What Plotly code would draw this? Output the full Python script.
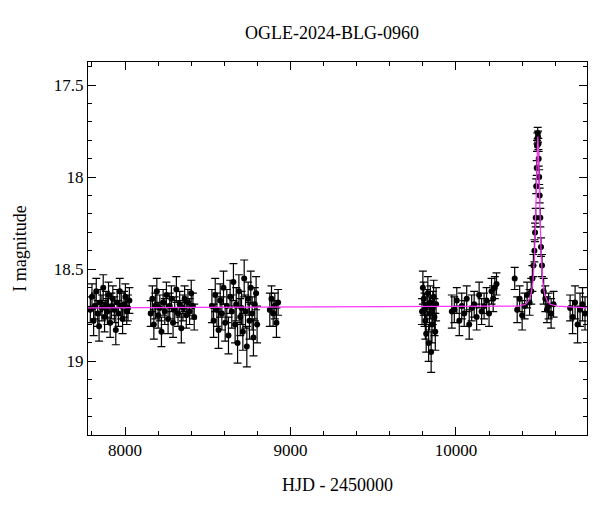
import plotly.graph_objects as go

# Observations (HJD-2450000, I mag, error)
hjd = [7790,7800,7810,7818,7826,7835,7843,7850,7860,7868,7876,7884,7893,7900,7910,7918,7926,7935,7944,7952,7960,7968,7977,7985,7994,8002,8010,8018,8026,
       8155,8165,8174,8183,8192,8200,8210,8220,8230,8240,8250,8260,8270,8280,8290,8300,8310,8320,8330,8340,8350,8360,8370,8380,8390,8400,8410,8418,
       8525,8535,8545,8555,8565,8575,8585,8595,8605,8615,8625,8635,8645,8655,8665,8672,8680,8688,8696,8704,8712,8720,8728,8736,8744,8752,8760,8768,8776,8784,8792,8798,
       8875,8885,8895,8905,8915,8925,
       9795,9800,9805,9810,9815,9820,9825,9830,9835,9840,9845,9850,9855,9860,9865,9870,9875,9880,
       9975,9990,10005,10020,10035,10050,10065,10080,10095,10110,10125,10140,10155,10170,10185,10200,10215,10225,10235,10245,
       10355,10370,10385,10400,10415,10430,10445,10455,10462,10468,10474,10478,10482,10485,10488,10490,10492,10494,10496,10498,10500,10503,10506,10510,10514,10520,10530,10540,10550,10560,10575,10590,
       10690,10705,10720,10735,10750,10765,10780]
mag = [18.72,18.65,18.78,18.70,18.62,18.74,18.81,18.68,18.71,18.60,18.76,18.69,18.73,18.64,18.79,18.70,18.66,18.72,18.83,18.68,18.74,18.62,18.70,18.77,18.69,18.65,18.73,18.71,18.67,
       18.74,18.66,18.80,18.70,18.62,18.75,18.71,18.84,18.68,18.73,18.64,18.77,18.70,18.66,18.79,18.72,18.61,18.74,18.69,18.82,18.71,18.66,18.75,18.68,18.73,18.63,18.70,18.76,
       18.70,18.78,18.64,18.72,18.83,18.67,18.74,18.60,18.79,18.70,18.86,18.65,18.73,18.57,18.80,18.69,18.90,18.62,18.76,18.71,18.84,18.55,18.73,18.92,18.66,18.78,18.60,18.74,18.87,18.69,18.63,18.80,18.72,
       18.66,18.74,18.70,18.79,18.68,18.73,
       18.60,18.66,18.72,18.78,18.85,18.70,18.63,18.90,18.74,18.68,18.95,18.80,18.71,18.65,18.76,18.84,18.69,18.73,
       18.72,18.67,18.78,18.70,18.74,18.66,18.80,18.71,18.69,18.76,18.64,18.73,18.70,18.67,18.74,18.62,18.66,18.60,18.58,18.55,
       18.72,18.66,18.75,18.70,18.64,18.68,18.62,18.55,18.48,18.40,18.30,18.22,18.05,17.95,17.83,17.79,17.76,17.78,17.82,17.90,18.00,18.10,18.22,18.38,18.48,18.62,18.66,18.72,18.70,18.74,18.69,18.71,
       18.76,18.68,18.80,18.72,18.69,18.74,18.71]
err = [0.07,0.07,0.08,0.07,0.07,0.07,0.08,0.07,0.07,0.07,0.08,0.07,0.07,0.07,0.08,0.07,0.07,0.07,0.08,0.07,0.07,0.07,0.07,0.08,0.07,0.07,0.07,0.07,0.07,
       0.07,0.07,0.08,0.07,0.07,0.07,0.07,0.08,0.07,0.07,0.07,0.08,0.07,0.07,0.08,0.07,0.07,0.07,0.07,0.08,0.07,0.07,0.07,0.07,0.07,0.07,0.07,0.07,
       0.09,0.09,0.09,0.09,0.10,0.09,0.09,0.09,0.10,0.09,0.10,0.09,0.09,0.10,0.10,0.09,0.11,0.09,0.10,0.09,0.10,0.10,0.09,0.11,0.09,0.10,0.09,0.09,0.10,0.09,0.09,0.10,0.09,
       0.07,0.07,0.07,0.08,0.07,0.07,
       0.09,0.09,0.09,0.10,0.10,0.09,0.09,0.10,0.09,0.09,0.11,0.10,0.09,0.09,0.10,0.10,0.09,0.09,
       0.07,0.07,0.08,0.07,0.07,0.07,0.08,0.07,0.07,0.07,0.07,0.07,0.07,0.07,0.07,0.07,0.07,0.06,0.06,0.06,
       0.07,0.07,0.08,0.07,0.07,0.07,0.07,0.07,0.06,0.06,0.05,0.05,0.04,0.04,0.03,0.03,0.03,0.03,0.03,0.04,0.04,0.04,0.05,0.05,0.06,0.07,0.07,0.07,0.07,0.08,0.07,0.07,
       0.09,0.09,0.10,0.09,0.09,0.09,0.09]

# Model curve
model_t = [7776,10380,10420,10440,10455,10465,10475,10482,10488,10492,10495,10498,10502,10508,10515,10525,10535,10550,10570,10610,10792]
model_m = [18.71,18.70,18.69,18.67,18.63,18.57,18.43,18.25,18.00,17.85,17.78,17.85,18.00,18.25,18.43,18.57,18.63,18.67,18.69,18.70,18.71]

xticks = [8000,9000,10000]
yticks = [17.5,18,18.5,19]

fig = go.Figure()
fig.add_trace(go.Scatter(x=hjd, y=mag, mode="markers",
    marker=dict(color="black", size=6),
    error_y=dict(type="data", array=err, color="black", thickness=1.2, width=4)))
fig.add_trace(go.Scatter(x=model_t, y=model_m, mode="lines", line=dict(color="#ff33ff", width=1.2)))

font = "Liberation Serif"
axcommon = dict(showgrid=False, zeroline=False, mirror="allticks", ticks="inside", showline=True,
                linecolor="black", linewidth=1, tickcolor="black", ticklen=8, automargin=False,
                tickfont=dict(family=font, size=17, color="black"),
                minor=dict(ticks="inside", ticklen=4, tickcolor="black"))
fig.update_xaxes(range=[7776,10792], tickvals=xticks, ticktext=[str(v) for v in xticks],
                 title=dict(text="HJD - 2450000", font=dict(family=font, size=18, color="black"), standoff=18),
                 **axcommon)
fig.update_xaxes(minor_dtick=200, minor_tick0=0)
fig.update_yaxes(range=[19.40,17.375], tickvals=yticks, ticktext=["17.5","18","18.5","19"],
                 title=dict(text="I magnitude", font=dict(family=font, size=18, color="black"), standoff=22),
                 **axcommon)
fig.update_yaxes(minor_dtick=0.1, minor_tick0=0)
fig.update_layout(width=600, height=512, showlegend=False, plot_bgcolor="white", paper_bgcolor="white",
                  margin=dict(l=80, r=21, t=54, b=85),
                  title=dict(text="OGLE-2024-BLG-0960", x=0.54, y=0.965, xanchor="center",
                             font=dict(family=font, size=18, color="black")))
fig.write_html("out.html")
